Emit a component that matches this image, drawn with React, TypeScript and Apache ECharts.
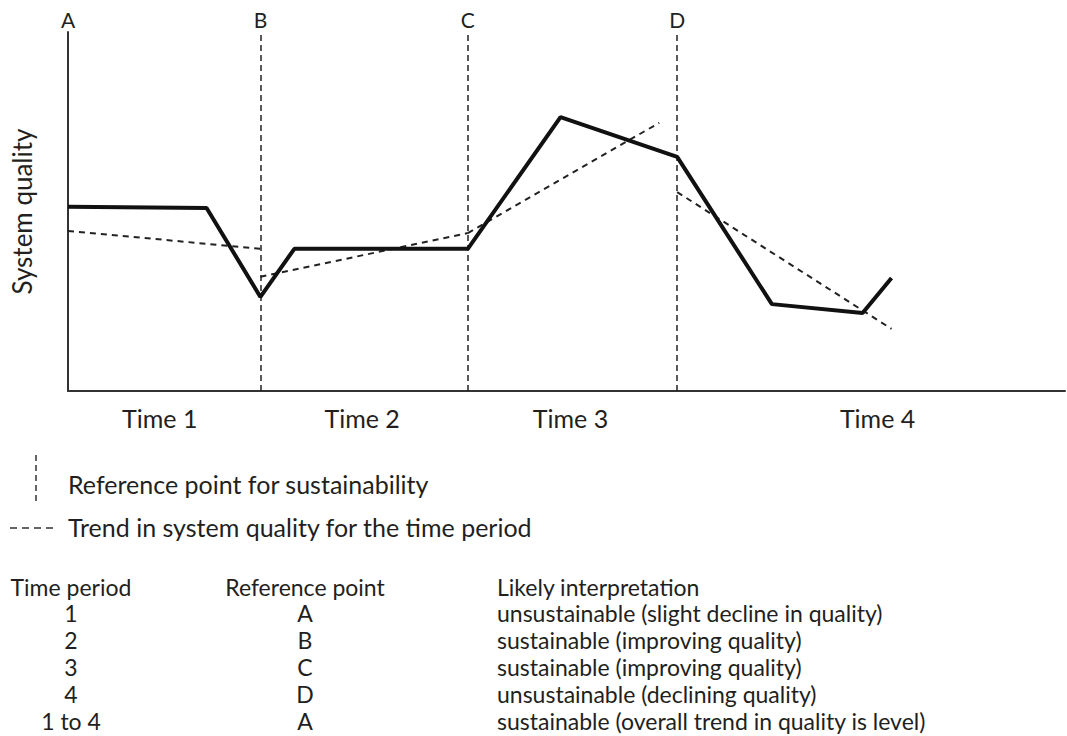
import React, { useEffect, useRef } from "react";
import * as echarts from "echarts";

// x: time units (0..1000), y: system quality (0..100)
const qualityX = [0, 139, 193, 227, 401, 494, 611, 706, 797, 826];
const qualityY = [51.3, 51.0, 26.2, 39.6, 39.6, 76.3, 65.2, 24.2, 21.7, 31.5];

const trend1 = [[0, 44.6], [193, 39.6]];
const trend2 = [[193, 31.8], [401, 44.0]];
const trend3 = [[401, 44.0], [593, 74.7]];
const trend4 = [[611, 55.4], [826, 17.3]];

const refNames = ["A", "B", "C", "D"];
const refX = [0, 193, 401, 611];

const timeNames = ["Time 1", "Time 2", "Time 3", "Time 4"];
const timeX = [92, 295, 504, 812];

const tableHeader = ["Time period", "Reference point", "Likely interpretation"];
const tablePeriods = ["1", "2", "3", "4", "1 to 4"];
const tableRefs = ["A", "B", "C", "D", "A"];
const tableInterp = [
  "unsustainable (slight decline in quality)",
  "sustainable (improving quality)",
  "sustainable (improving quality)",
  "unsustainable (declining quality)",
  "sustainable (overall trend in quality is level)",
];

const FONT = "Lato, 'Open Sans', sans-serif";
const TXT = "#231f20";

export default function App() {
  const ref = useRef<HTMLDivElement>(null);
  useEffect(() => {
    const chart = echarts.init(ref.current!, null, { renderer: "svg" });
    const trends = [trend1, trend2, trend3, trend4];
    const rowY = [613, 640, 667, 694, 721];
    const textStyle = (extra: any) => ({ fill: TXT, font: `25px ${FONT}`, textVerticalAlign: "middle", ...extra });
    const tableStyle = (extra: any) => ({ fill: TXT, font: `23px ${FONT}`, textVerticalAlign: "middle", ...extra });
    const graphic: any[] = [
      { type: "line", shape: { x1: 36, y1: 455, x2: 36, y2: 505 }, style: { stroke: "#333", lineWidth: 1.5, lineDash: [6, 4] } },
      { type: "text", x: 68, y: 484, style: textStyle({ text: "Reference point for sustainability" }) },
      { type: "line", shape: { x1: 10, y1: 528, x2: 58, y2: 528 }, style: { stroke: "#333", lineWidth: 1.5, lineDash: [7, 5] } },
      { type: "text", x: 68, y: 527, style: textStyle({ text: "Trend in system quality for the time period" }) },
      { type: "text", x: 71, y: 587, style: tableStyle({ text: tableHeader[0], align: "center" }) },
      { type: "text", x: 305, y: 587, style: tableStyle({ text: tableHeader[1], align: "center" }) },
      { type: "text", x: 497, y: 587, style: tableStyle({ text: tableHeader[2] }) },
    ];
    tablePeriods.forEach((p, i) => {
      graphic.push({ type: "text", x: 71, y: rowY[i], style: tableStyle({ text: p, align: "center" }) });
      graphic.push({ type: "text", x: 305, y: rowY[i], style: tableStyle({ text: tableRefs[i], align: "center" }) });
      graphic.push({ type: "text", x: 497, y: rowY[i], style: tableStyle({ text: tableInterp[i] }) });
    });

    chart.setOption({
      animation: false,
      textStyle: { fontFamily: FONT },
      grid: { left: 68, right: 2, top: 32, bottom: 345, containLabel: false },
      xAxis: {
        type: "value",
        min: 0,
        max: 1000,
        splitLine: { show: false },
        axisLine: { lineStyle: { color: "#333", width: 2 } },
        axisTick: { show: false },
        axisLabel: {
          customValues: timeX,
          formatter: (v: number) => timeNames[timeX.indexOf(v)] ?? "",
          color: TXT,
          fontSize: 25,
          fontFamily: FONT,
          margin: 14,
        },
      },
      yAxis: {
        type: "value",
        min: 0,
        max: 100,
        name: "System quality",
        nameLocation: "middle",
        nameRotate: 90,
        nameGap: 33,
        nameTextStyle: { color: TXT, fontSize: 26, fontFamily: FONT },
        splitLine: { show: false },
        axisLine: { show: true, lineStyle: { color: "#333", width: 2 } },
        axisTick: { show: false },
        axisLabel: { show: false },
      },
      series: [
        {
          type: "line",
          data: qualityX.map((x, i) => [x, qualityY[i]]),
          symbol: "none",
          lineStyle: { color: "#111", width: 4 },
          z: 5,
          markLine: {
            silent: true,
            symbol: "none",
            data: refX.map((x, i) => ({
              xAxis: x,
              name: refNames[i],
              lineStyle: i === 0 ? { width: 0, color: "transparent" } : undefined,
            })),
            lineStyle: { color: "#222", type: [6, 4], width: 1.5 },
            label: {
              show: true,
              position: "end",
              formatter: "{b}",
              color: TXT,
              fontSize: 21,
              fontFamily: FONT,
              distance: 2,
            },
          },
        },
        ...trends.map((t) => ({
          type: "line",
          data: t,
          symbol: "none",
          lineStyle: { color: "#222", width: 2, type: [6, 5] },
          z: 4,
        })),
      ],
      graphic,
    });
    return () => chart.dispose();
  }, []);
  return <div ref={ref} style={{ width: 1067, height: 736, position: "absolute", left: 0, top: 0 }} />;
}
